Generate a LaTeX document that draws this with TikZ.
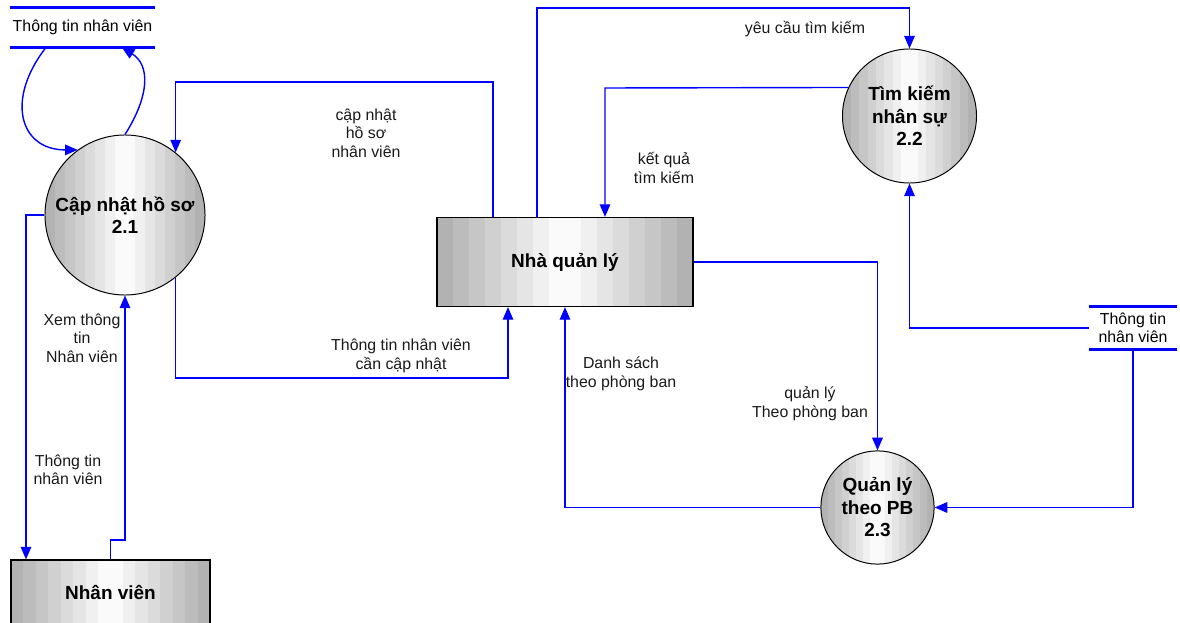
\documentclass[tikz,border=0pt]{standalone}
\usepackage{fontspec}
\setmainfont{Liberation Sans}
\usetikzlibrary{arrows.meta,calc}

\definecolor{flowblue}{RGB}{0,0,255}
\definecolor{edgegray}{RGB}{178,178,178}
\definecolor{inkgray}{RGB}{25,25,25}

\begin{document}
\begin{tikzpicture}[x=0.025cm, y=-0.025cm, line join=miter,
  flow/.style={draw=flowblue, line width=1pt, -{Triangle[length=9pt,width=7.5pt]}},
  % 16 vertical grey bands, white in the middle
  bands/.style={path picture={
    \foreach \i in {0,...,15} {
      \pgfmathtruncatemacro\mix{100*(1-abs(\i-7.5)/7.5)}
      \fill[white!\mix!edgegray]
        ($(path picture bounding box.south west)!\i/16!(path picture bounding box.south east)$)
        rectangle
        ($(path picture bounding box.north west)!{(\i+1)/16}!(path picture bounding box.north east)$);
    }}},
  process/.style={circle, draw=black, line width=0.7pt, inner sep=0pt, bands,
    font=\fontsize{13.5}{16}\selectfont\bfseries, align=center},
  entity/.style={rectangle, draw=black, line width=0.8pt, inner sep=0pt, bands,
    font=\fontsize{13.5}{16}\selectfont\bfseries},
  store/.style={inner sep=0pt, font=\fontsize{11.3}{13.2}\selectfont, align=center},
  storeline/.style={draw=flowblue, line width=2.2pt},
  flowlabel/.style={font=\fontsize{11.3}{13.2}\selectfont, align=center, text=inkgray}]

% picture is laid out in pixels of the scan (1180 x 623), y going down
\useasboundingbox (0,0) rectangle (1180,623);

% processes
\node[process, minimum size=4cm]    (c21) at (125,215)   {Cập nhật hồ sơ\\2.1};
\node[process, minimum size=3.35cm] (c22) at (909.5,116) {Tìm kiếm\\nhân sự\\2.2};
\node[process, minimum size=2.83cm] (c23) at (877.5,507.5) {Quản lý\\theo PB\\2.3};

% external entities
\node[entity, minimum width=6.4cm, minimum height=2.225cm]  (nql) at (565,262) {Nhà quản lý};
\node[entity, minimum width=4.975cm, minimum height=1.625cm] (nv) at (110.5,592.5) {Nhân viên};

% data stores
\node[store, minimum width=3.625cm, minimum height=0.975cm] (ds1) at (82.5,27.5) {Thông tin nhân viên};
\node[store, minimum width=2.2cm, minimum height=1.05cm]    (ds2) at (1133,328)  {Thông tin\\nhân viên};
\foreach \s in {ds1,ds2} {
  \draw[storeline] (\s.north west) -- (\s.north east);
  \draw[storeline] (\s.south west) -- (\s.south east);
}

% bend points
\coordinate (a3) at (493,82);
\coordinate (a4) at (508,378);
\coordinate (a5) at (26,215);
\coordinate (a6) at (125,540);
\coordinate (a7) at (537,8);
\coordinate (a8) at (605,88);

% flows round 2.1
\draw[flow] ($(ds1.south west)!0.25!(ds1.south east)$) .. controls (5,100) and (20,150) .. (c21.126);
\draw[flow] (c21.north) .. controls (150,95) and (150,65) .. ($(ds1.south west)!0.77!(ds1.south east)$);
\draw[flow] (a3 |- nql.north) -- (a3) -| (c21.51);
\draw[flow] (c21.-51) |- (a4) -- (a4 |- nql.south);
\draw[flow] (c21.west) -- (a5) -- (a5 |- nv.north);
\draw[flow] (nv.north) |- (a6) -- (c21.south);

% flows round 2.2
\draw[flow] (a7 |- nql.north) -- (a7) -| (c22.north);
\draw[flow] (c22.155) -- (a8) -- (a8 |- nql.north);
\draw[flow] (ds2.west) -| (c22.south);

% flows round 2.3
\draw[flow] (nql.east) -| (c23.north);
\draw[flow] (c23.west) -| (nql.south);
\draw[flow] (ds2.south) |- (c23.east);

% labels
\node[flowlabel] (l3)  at (366,133) {cập nhật\\hồ sơ\\nhân viên};
\node[flowlabel] (l4)  at (401,356) {Thông tin nhân viên\\cần cập nhật};
\node[flowlabel] (l6)  at (82,338)  {Xem thông\\tin\\Nhân viên};
\node[flowlabel] (l5)  at (68,470)  {Thông tin\\nhân viên};
\node[flowlabel] (l7)  at (805,29)  {yêu cầu tìm kiếm};
\node[flowlabel] (l8)  at (664,168) {kết quả\\tìm kiếm};
\node[flowlabel] (l11) at (810,404) {quản lý\\Theo phòng ban};
\node[flowlabel] (l12) at (621,374) {Danh sách\\theo phòng ban};

\end{tikzpicture}
\end{document}
